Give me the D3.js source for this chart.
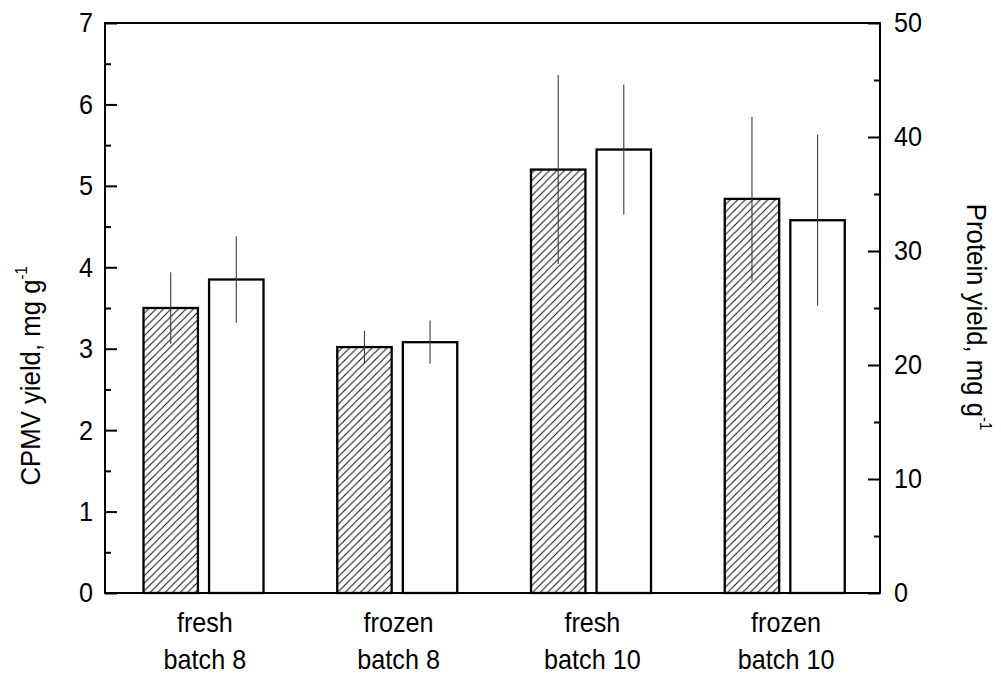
<!DOCTYPE html>
<html>
<head>
<meta charset="utf-8">
<script src="https://cdn.jsdelivr.net/npm/d3@7/dist/d3.min.js"></script>
<style>
  html, body { margin: 0; padding: 0; background: #fff; }
  svg { display: block; }
  text { font-family: "Liberation Sans", Arial, sans-serif; fill: #000; }
</style>
</head>
<body>
<svg id="chart" width="1001" height="677"></svg>
<script>
// ---- data ----
const categoryLine1 = ["fresh", "frozen", "fresh", "frozen"];
const categoryLine2 = ["batch 8", "batch 8", "batch 10", "batch 10"];
const cpmvYield = [3.50, 3.02, 5.20, 4.84];          // mg g-1, left axis (hatched)
const cpmvError = [0.44, 0.20, 1.16, 1.01];
const proteinYield = [27.5, 22.0, 38.9, 32.7];       // mg g-1, right axis (open)
const proteinError = [3.8, 1.9, 5.7, 7.5];
const leftTicks = [0, 1, 2, 3, 4, 5, 6, 7];
const rightTicks = [0, 10, 20, 30, 40, 50];
const leftMinorTicks = [0.5, 1.5, 2.5, 3.5, 4.5, 5.5, 6.5];
const rightMinorTicks = [5, 15, 25, 35, 45];
const seriesKeys = ["cpmv", "protein"];

// ---- layout ----
const svg = d3.select("#chart");
const plotLeft = 105, plotRight = 880, plotTop = 23, plotBottom = 593;
const FS = 28, SX = 0.9;

const x0 = d3.scaleBand().domain(d3.range(categoryLine1.length)).range([plotLeft, plotRight]).padding(0);
const x1 = d3.scaleBand().domain(seriesKeys).range([38.5, 158.5]).paddingInner(0.17);
const yL = d3.scaleLinear().domain([0, 7]).range([plotBottom, plotTop]);
const yR = d3.scaleLinear().domain([0, 50]).range([plotBottom, plotTop]);

// hatch pattern
const defs = svg.append("defs");
const P = 7.5;
const pat = defs.append("pattern")
  .attr("id", "hatch")
  .attr("patternUnits", "userSpaceOnUse")
  .attr("width", P).attr("height", P);
pat.append("rect").attr("width", P).attr("height", P).attr("fill", "#fff");
pat.append("path")
  .attr("d", `M-1,1 l2,-2 M0,${P} l${P},-${P} M${P-1},${P+1} l2,-2`)
  .attr("stroke", "#111").attr("stroke-width", 1);

const rows = categoryLine1.map((c, i) => ({
  i,
  cpmv: cpmvYield[i], cpmvErr: cpmvError[i],
  protein: proteinYield[i], proteinErr: proteinError[i]
}));

const g = svg.append("g");

// bars
rows.forEach(r => {
  const gx = x0(r.i);
  g.append("rect")
    .attr("x", gx + x1("cpmv"))
    .attr("y", yL(r.cpmv))
    .attr("width", x1.bandwidth())
    .attr("height", yL(0) - yL(r.cpmv))
    .attr("fill", "url(#hatch)")
    .attr("stroke", "#000").attr("stroke-width", 2.3);
  g.append("rect")
    .attr("x", gx + x1("protein"))
    .attr("y", yR(r.protein))
    .attr("width", x1.bandwidth())
    .attr("height", yR(0) - yR(r.protein))
    .attr("fill", "#fff")
    .attr("stroke", "#000").attr("stroke-width", 2.3);
});

// error bars
rows.forEach(r => {
  const gx = x0(r.i);
  const cx1 = gx + x1("cpmv") + x1.bandwidth() / 2;
  const cx2 = gx + x1("protein") + x1.bandwidth() / 2;
  g.append("line")
    .attr("x1", cx1).attr("x2", cx1)
    .attr("y1", yL(r.cpmv + r.cpmvErr)).attr("y2", yL(r.cpmv - r.cpmvErr))
    .attr("stroke", "#3a3a3a").attr("stroke-width", 1.1);
  g.append("line")
    .attr("x1", cx2).attr("x2", cx2)
    .attr("y1", yR(r.protein + r.proteinErr)).attr("y2", yR(r.protein - r.proteinErr))
    .attr("stroke", "#3a3a3a").attr("stroke-width", 1.1);
});

// frame
svg.append("rect")
  .attr("x", plotLeft).attr("y", plotTop)
  .attr("width", plotRight - plotLeft).attr("height", plotBottom - plotTop)
  .attr("fill", "none").attr("stroke", "#000").attr("stroke-width", 2);

function styleTickText(sel, pad) {
  sel.selectAll(".tick text")
    .attr("font-size", FS).attr("fill", "#000")
    .attr("font-family", "'Liberation Sans', Arial, sans-serif")
    .attr("x", pad / SX)
    .attr("transform", `scale(${SX},1)`);
}

// left axis (ticks inward)
const axL = svg.append("g").attr("transform", `translate(${plotLeft},0)`)
  .call(d3.axisLeft(yL).tickValues(leftTicks).tickFormat(d3.format("d"))
    .tickSize(-12).tickPadding(12));
axL.select(".domain").remove();
axL.selectAll(".tick line").attr("stroke", "#000").attr("stroke-width", 2);
styleTickText(axL, -12);

const axLm = svg.append("g").attr("transform", `translate(${plotLeft},0)`)
  .call(d3.axisLeft(yL).tickValues(leftMinorTicks).tickFormat("").tickSize(-6));
axLm.select(".domain").remove();
axLm.selectAll(".tick line").attr("stroke", "#000").attr("stroke-width", 2);

// right axis (ticks inward)
const axR = svg.append("g").attr("transform", `translate(${plotRight},0)`)
  .call(d3.axisRight(yR).tickValues(rightTicks).tickFormat(d3.format("d"))
    .tickSize(-12).tickPadding(14));
axR.select(".domain").remove();
axR.selectAll(".tick line").attr("stroke", "#000").attr("stroke-width", 2);
styleTickText(axR, 14);

const axRm = svg.append("g").attr("transform", `translate(${plotRight},0)`)
  .call(d3.axisRight(yR).tickValues(rightMinorTicks).tickFormat("").tickSize(-6));
axRm.select(".domain").remove();
axRm.selectAll(".tick line").attr("stroke", "#000").attr("stroke-width", 2);

// category labels
const xl = svg.append("g");
rows.forEach(r => {
  const cx = x0(r.i) + x0.bandwidth() / 2 + 3;
  xl.append("text").attr("transform", `translate(${cx},632) scale(${SX},1)`)
    .attr("text-anchor", "middle").attr("font-size", FS).text(categoryLine1[r.i]);
  xl.append("text").attr("transform", `translate(${cx},669) scale(${SX},1)`)
    .attr("text-anchor", "middle").attr("font-size", FS).text(categoryLine2[r.i]);
});

// axis titles
const tL = svg.append("text")
  .attr("transform", `translate(40,376) rotate(-90) scale(0.92,1)`)
  .attr("text-anchor", "middle").attr("font-size", FS);
tL.append("tspan").text("CPMV yield, mg g");
tL.append("tspan").attr("font-size", 16).attr("dy", -13).text("-1");

const tR = svg.append("text")
  .attr("transform", `translate(967,317) rotate(90) scale(0.92,1)`)
  .attr("text-anchor", "middle").attr("font-size", FS);
tR.append("tspan").text("Protein yield, mg g");
tR.append("tspan").attr("font-size", 16).attr("dy", -13).text("-1");
</script>
</body>
</html>
